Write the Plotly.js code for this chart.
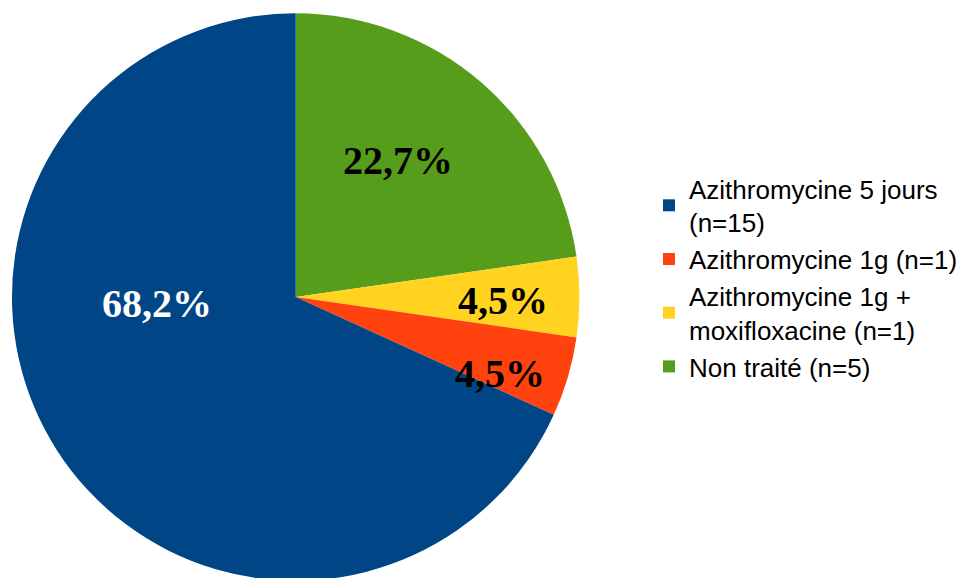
<!DOCTYPE html>
<html>
<head>
<meta charset="utf-8">
<script src="https://cdn.plot.ly/plotly-3.0.1.min.js"></script>
<style>
html, body { margin: 0; padding: 0; overflow: hidden; background: #fff; }
#chart { width: 963px; height: 582px; }
</style>
</head>
<body>
<div id="chart"></div>
<script>
// Data (listed in drawing order, clockwise from 12 o'clock; legend shown reversed)
const categories = [
  "Non traité (n=5)",
  "Azithromycine 1g +<br>moxifloxacine (n=1)",
  "Azithromycine 1g (n=1)",
  "Azithromycine 5 jours<br>(n=15)"
];
const counts = [5, 1, 1, 15];
const colors = ["#579d1c", "#ffd320", "#ff420e", "#004586"];

// Label styling (angle offset in degrees from slice mid-angle, radius fraction, color)
const labelAngleOffset = [-4, 1, 4, 30];
const labelRadiusFrac = [0.60, 0.73, 0.77, 0.49];
const labelColors = ["#000000", "#000000", "#000000", "#ffffff"];

const W = 963, H = 582;
const domX = [12 / W, 580 / W];
const domY = [1 - 581 / H, 1 - 13 / H];

const cx = (domX[0] + domX[1]) / 2 * W;
const cy = (1 - (domY[0] + domY[1]) / 2) * H;
const R = Math.min((domX[1] - domX[0]) * W, (domY[1] - domY[0]) * H) / 2;

const total = counts.reduce((a, b) => a + b, 0);
const annotations = [];
let cum = 0;
counts.forEach((v, i) => {
  const midCW = (cum + v / 2) / total * 360;
  cum += v;
  const ang = (midCW + labelAngleOffset[i]) * Math.PI / 180;
  const r = labelRadiusFrac[i] * R;
  const px = cx + r * Math.sin(ang);
  const py = cy - r * Math.cos(ang);
  const pct = (v / total * 100).toFixed(1).replace(".", ",") + "%";
  annotations.push({
    xref: "paper", yref: "paper",
    x: px / W, y: 1 - py / H,
    xanchor: "center", yanchor: "middle",
    text: "<b>" + pct + "</b>",
    showarrow: false,
    font: { family: "Liberation Serif, Times New Roman, serif", size: 40, color: labelColors[i] }
  });
});

const trace = {
  type: "pie",
  labels: categories,
  values: counts,
  sort: false,
  direction: "clockwise",
  rotation: 0,
  marker: { colors: colors, line: { width: 0 } },
  textinfo: "none",
  hoverinfo: "none",
  domain: { x: domX, y: domY }
};

const layout = {
  width: W, height: H,
  margin: { l: 0, r: 0, t: 0, b: 0, pad: 0 },
  paper_bgcolor: "#ffffff",
  plot_bgcolor: "#ffffff",
  showlegend: true,
  legend: {
    x: 650 / W, y: 1 - 165 / H,
    xanchor: "left", yanchor: "top",
    font: { family: "Liberation Sans, Arial, sans-serif", size: 26, color: "#000000" },
    bgcolor: "rgba(0,0,0,0)",
    traceorder: "reversed"
  },
  annotations: annotations
};

Plotly.newPlot("chart", [trace], layout, { displayModeBar: false, staticPlot: true });
</script>
</body>
</html>
